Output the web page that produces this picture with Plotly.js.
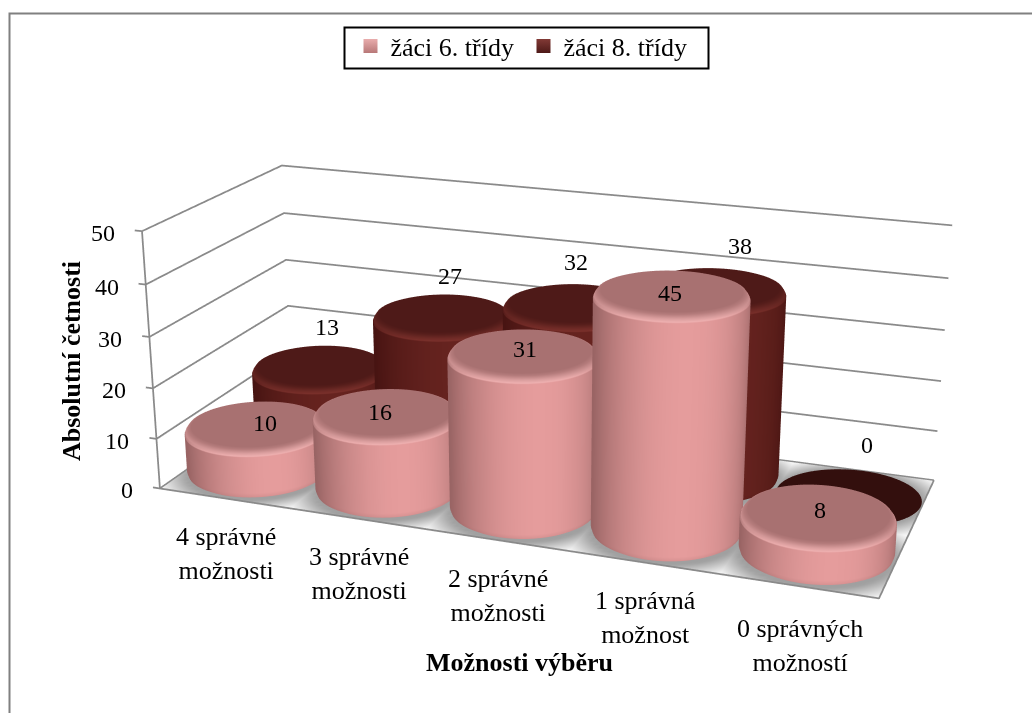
<!DOCTYPE html>
<html lang="cs"><head><meta charset="utf-8">
<script src="https://cdn.plot.ly/plotly-3.0.1.min.js"></script>
<style>html,body{margin:0;padding:0;overflow:hidden;background:#fff;width:1032px;height:713px}#chart{position:absolute}</style>
</head><body><div id="chart"></div>
<script>
// Survey results: how many correct options pupils marked
const categories = ['4 správné<br>možnosti', '3 správné<br>možnosti', '2 správné<br>možnosti', '1 správná<br>možnost', '0 správných<br>možností'];
const grade6 = [10, 16, 31, 45, 8];
const grade8 = [13, 27, 32, 38, 0];
const seriesNames = ['žáci 6. třídy', 'žáci 8. třídy'];
const valueTicks = [0, 10, 20, 30, 40, 50];
const xTitle = 'Možnosti výběru';
const yTitle = 'Absolutní četnosti';

// Pixel nudges for the value labels and the category labels
const grade6Nudge = [[9, 1], [-6, -1], [2, 2], [-2, -2], [2, 2]];
const grade8Nudge = [[8, 38], [8, 37], [2, 41], [27, 41], [19, 52]];
const categoryDrop = [-55, -55, -56, -55, -59];

// Scene camera. Plotly's perspective has a fixed field of view, so the plot is
// laid out larger than the window and centred on the principal point.
const PP = [540, 370];
const SIZE = 1621;
const LEFT = PP[0] - SIZE / 2, TOP = PP[1] - SIZE / 2;
const BOX = [1, 0.39956, 0.36795];
const EYE = [0.85810, -2.36527, 0.86422];
const CENTER = [0.53209, -1.47948, 0.53393];
const NCAT = categories.length, NROW = 2, VMAX = 50;
const RANGES = [[-0.2, NCAT + 0.1], [-0.1, NROW + 0.1], [-0.25, VMAX + 1]];
const SPANS = [NCAT, NROW, VMAX];

const FONT = 'Liberation Serif, Times New Roman, serif';
const px = v => (v - LEFT) / SIZE;
const py = v => 1 - (v - TOP) / SIZE;

// Widening the ranges keeps the box scale; shift the camera to compensate.
const shift = RANGES.map((r, k) => (SPANS[k] / 2 - (r[0] + r[1]) / 2) / SPANS[k] * BOX[k]);
const eye = EYE.map((v, k) => v + shift[k]);
const center = CENTER.map((v, k) => v + shift[k]);
const aspect = RANGES.map((r, k) => (r[1] - r[0]) / SPANS[k] * BOX[k]);

const hex = s => [1, 3, 5].map(i => parseInt(s.substr(i, 2), 16));
const mix = (a, b, t) => a.map((v, i) => v + (b[i] - v) * t);
const rgb = c => 'rgb(' + c.map(Math.round).join(',') + ')';

const PINK = { mid: hex('#e59c9c'), edge: hex('#996464'), top: hex('#a87171'), rim: hex('#eeb0b0'), flat: hex('#a87171') };
const WINE = { mid: hex('#66231f'), edge: hex('#471412'), top: hex('#4e1a18'), rim: hex('#7a302b'), flat: hex('#330f0d') };
const RADIUS = 0.495, SEGMENTS = 72, BEVEL = 1.6, FLAT = 0.06;

// One bevelled cylinder per value, joined into a single mesh for the series.
function cylinders(values, row, tone) {
  const m = { x: [], y: [], z: [], i: [], j: [], k: [], vertexcolor: [] };
  values.forEach((h, c) => {
    const cx = c + 0.5, cy = row + 0.5;
    const toEye = Math.atan2(EYE[1] - (cy - NROW / 2) / NROW * BOX[1], EYE[0] - (cx - NCAT / 2) / NCAT * BOX[0]);
    const light = toEye + 12 * Math.PI / 180;
    const b = Math.min(BEVEL, h / 3);
    const rings = h > 0
      ? [[0.92, 0, 0.75], [0.98, b * 0.3, 0.85], [1, b * 0.8, 1], [1, h - b, 1], [1, h - b * 0.85, 2],
         [0.985, h - b * 0.55, 3], [0.95, h - b * 0.15, 4], [0.90, h, 5]]
      : [[1, FLAT, 6], [0.5, FLAT, 6]];
    const start = m.x.length;
    rings.forEach(([r, z, kind]) => {
      for (let s = 0; s < SEGMENTS; s++) {
        const a = s / SEGMENTS * 2 * Math.PI;
        m.x.push(cx + RADIUS * r * Math.cos(a));
        m.y.push(cy + RADIUS * r * Math.sin(a));
        m.z.push(z);
        const lit = Math.max(0, Math.cos(a - light));
        let col = mix(tone.edge, tone.mid, Math.pow(lit, 1.4));
        const facing = Math.max(0, Math.cos(a - toEye));
        if (kind === 0.75) col = mix(col, tone.edge, 0.25);
        if (kind === 0.85) col = mix(col, tone.edge, 0.15);
        if (kind === 2) col = mix(col, tone.rim, Math.pow(facing, 0.8));
        if (kind === 3) col = mix(mix(tone.top, tone.rim, 0.45), tone.rim, Math.pow(facing, 1.5) * 0.5);
        if (kind === 4) col = mix(tone.top, tone.rim, 0.18);
        if (kind === 5) col = tone.top;
        if (kind === 6) col = tone.flat;
        m.vertexcolor.push(rgb(col));
      }
    });
    for (let q = 0; q < rings.length - 1; q++) {
      for (let s = 0; s < SEGMENTS; s++) {
        const a = start + q * SEGMENTS + s, b2 = start + q * SEGMENTS + (s + 1) % SEGMENTS;
        const c2 = a + SEGMENTS, d = b2 + SEGMENTS;
        m.i.push(a, a); m.j.push(b2, d); m.k.push(d, c2);
      }
    }
    // Closing the top face with a centre vertex
    const last = start + (rings.length - 1) * SEGMENTS;
    const hub = m.x.length;
    m.x.push(cx); m.y.push(cy); m.z.push(h > 0 ? h : FLAT);
    m.vertexcolor.push(rgb(h > 0 ? tone.top : tone.flat));
    for (let s = 0; s < SEGMENTS; s++) {
      m.i.push(hub); m.j.push(last + s); m.k.push(last + (s + 1) % SEGMENTS);
    }
  });
  return m;
}

const flatLight = { ambient: 1, diffuse: 0, specular: 0, fresnel: 0, roughness: 1 };

// Floor: grey where the cylinders stand close, white in the gaps between them
function floorMesh() {
  const nx = 120, ny = 48;
  const m = { x: [], y: [], z: [], i: [], j: [], k: [], vertexcolor: [] };
  const grey = [160, 160, 160], white = [252, 252, 252];
  for (let b = 0; b <= ny; b++) for (let a = 0; a <= nx; a++) {
    const x = a / nx * NCAT, y = b / ny * NROW;
    let d = 9;
    for (let c = 0; c < NCAT; c++) for (let r = 0; r < NROW; r++) {
      d = Math.min(d, Math.hypot(x - c - 0.5, y - r - 0.5) - RADIUS);
    }
    m.x.push(x); m.y.push(y); m.z.push(-0.1);
    m.vertexcolor.push(rgb(mix(grey, white, Math.min(1, Math.max(0, d / 0.21)))));
  }
  for (let b = 0; b < ny; b++) for (let a = 0; a < nx; a++) {
    const p = b * (nx + 1) + a, q = p + 1, r = p + nx + 1, s = r + 1;
    m.i.push(p, p); m.j.push(q, s); m.k.push(s, r);
  }
  return m;
}

// Wall gridlines, value axis and floor outline as one broken polyline
const grid = { x: [], y: [], z: [] };
const seg = (...pts) => { pts.forEach(p => { grid.x.push(p[0]); grid.y.push(p[1]); grid.z.push(p[2]); }); grid.x.push(null); grid.y.push(null); grid.z.push(null); };
valueTicks.forEach(v => {
  seg([-0.055, 0, v], [0, 0, v], [0, NROW, v], [NCAT, NROW, v]);
});
seg([0, 0, 0], [0, 0, VMAX]);
seg([0, 0, 0], [NCAT, 0, 0], [NCAT, NROW, 0]);

const traces = [
  Object.assign({ type: 'mesh3d', hoverinfo: 'skip', flatshading: false, lighting: flatLight }, floorMesh()),
  { type: 'scatter3d', mode: 'lines', x: grid.x, y: grid.y, z: grid.z, connectgaps: false, hoverinfo: 'skip', showlegend: false, line: { color: '#8a8a8a', width: 3.5 } },
  Object.assign({ type: 'mesh3d', name: seriesNames[0], hoverinfo: 'skip', flatshading: false, lighting: flatLight }, cylinders(grade6, 0, PINK)),
  Object.assign({ type: 'mesh3d', name: seriesNames[1], hoverinfo: 'skip', flatshading: false, lighting: flatLight }, cylinders(grade8, 1, WINE)),
  { type: 'scatter', mode: 'markers', x: [null], y: [null], name: seriesNames[0], marker: { symbol: 'square', size: 14, color: '#e9adad', gradient: { type: 'vertical', color: '#b87878' } } },
  { type: 'scatter', mode: 'markers', x: [null], y: [null], name: seriesNames[1], marker: { symbol: 'square', size: 14, color: '#823a36', gradient: { type: 'vertical', color: '#4e1a18' } } }
];

const note = (x, y, z, text, size, extra) => Object.assign({ x, y, z, text, showarrow: false, font: { family: FONT, size, color: '#000' } }, extra);
const sceneNotes = [];
valueTicks.forEach(v => sceneNotes.push(note(0, 0, v, String(v), 24, { xanchor: 'right', xshift: -25, yshift: -2 })));
categories.forEach((c, i) => sceneNotes.push(note(i + 0.5, 0, 0, c, 26, { xshift: 2, yshift: categoryDrop[i] })));
grade6.forEach((v, i) => sceneNotes.push(note(i + 0.5, 0.5, v, String(v), 24, { xshift: grade6Nudge[i][0], yshift: grade6Nudge[i][1] })));
grade8.forEach((v, i) => sceneNotes.push(note(i + 0.5, 1.5, v, String(v), 24, { xshift: grade8Nudge[i][0], yshift: grade8Nudge[i][1] })));

const hiddenAxis = r => ({ visible: false, showgrid: false, zeroline: false, showspikes: false, range: r, autorange: false });

const layout = {
  width: SIZE, height: SIZE,
  margin: { l: 0, r: 0, t: 0, b: 0 },
  paper_bgcolor: '#fff', plot_bgcolor: 'rgba(0,0,0,0)',
  font: { family: FONT, size: 24, color: '#000' },
  xaxis: { visible: false, range: [0, 1] }, yaxis: { visible: false, range: [0, 1] },
  showlegend: true,
  legend: {
    orientation: 'h', x: px(350), y: py(22), xanchor: 'left', yanchor: 'top',
    borderwidth: 0, bgcolor: 'rgba(0,0,0,0)', itemwidth: 30,
    entrywidth: 128, entrywidthmode: 'pixels', font: { family: FONT, size: 26, color: '#000' }
  },
  scene: {
    domain: { x: [0, 1], y: [0, 1] },
    bgcolor: 'rgba(0,0,0,0)',
    aspectmode: 'manual',
    aspectratio: { x: aspect[0], y: aspect[1], z: aspect[2] },
    xaxis: hiddenAxis(RANGES[0]), yaxis: hiddenAxis(RANGES[1]), zaxis: hiddenAxis(RANGES[2]),
    camera: {
      eye: { x: eye[0], y: eye[1], z: eye[2] },
      center: { x: center[0], y: center[1], z: center[2] },
      up: { x: 0, y: 0, z: 1 },
      projection: { type: 'perspective' }
    },
    annotations: sceneNotes
  },
  annotations: [
    { xref: 'paper', yref: 'paper', x: px(519), y: py(662), xanchor: 'center', yanchor: 'middle', text: '<b>' + xTitle + '</b>', showarrow: false, font: { family: FONT, size: 26, color: '#000' } },
    { xref: 'paper', yref: 'paper', x: px(71), y: py(361), xanchor: 'center', yanchor: 'middle', text: '<b>' + yTitle + '</b>', textangle: -90, showarrow: false, font: { family: FONT, size: 26, color: '#000' } }
  ],
  shapes: [
    // Outer frame: left and top edges only
    { type: 'path', xref: 'paper', yref: 'paper', layer: 'above',
      path: 'M ' + px(9) + ' ' + py(713) + ' L ' + px(9) + ' ' + py(13) + ' L ' + px(1032) + ' ' + py(13),
      line: { color: '#808080', width: 2 } },
    // Legend box
    { type: 'rect', xref: 'paper', yref: 'paper', layer: 'above',
      x0: px(344), x1: px(708), y0: py(27), y1: py(68),
      line: { color: '#000', width: 2 }, fillcolor: 'rgba(0,0,0,0)' }
  ]
};

const host = document.getElementById('chart');
host.style.left = LEFT + 'px';
host.style.top = TOP + 'px';
Plotly.newPlot(host, traces, layout, { displayModeBar: false, scrollZoom: false });
</script></body></html>
